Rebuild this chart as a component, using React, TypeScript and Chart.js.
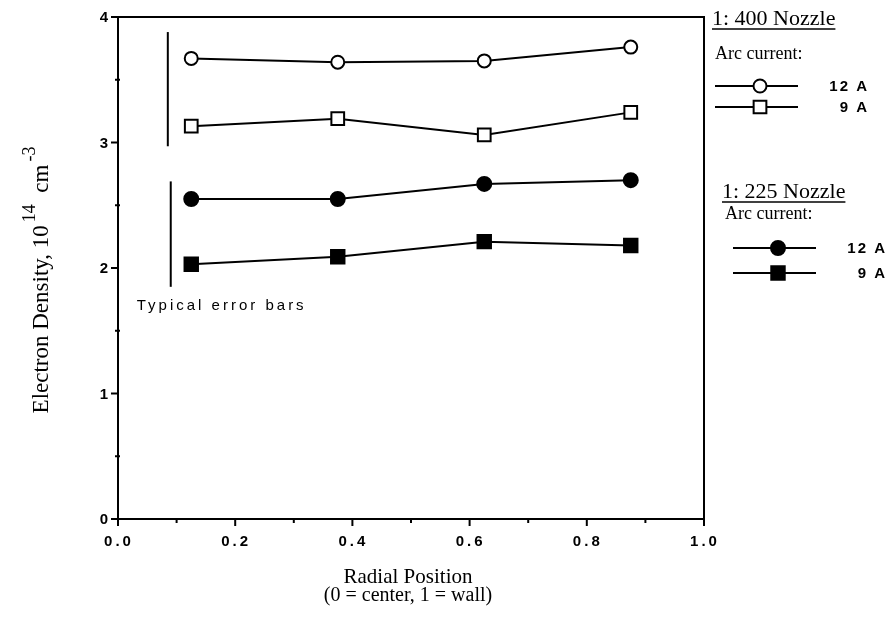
import React, { useEffect, useRef } from 'react';
import { Chart, registerables } from 'chart.js';

Chart.register(...registerables);

// ---- data ----
const radialPositions = [0.125, 0.375, 0.625, 0.875];
const nozzle400_12A = [3.67, 3.64, 3.65, 3.76];
const nozzle400_9A = [3.13, 3.19, 3.06, 3.24];
const nozzle225_12A = [2.55, 2.55, 2.67, 2.7];
const nozzle225_9A = [2.03, 2.09, 2.21, 2.18];

const errorBar400X = 0.085;
const errorBar400Range = [2.97, 3.88];
const errorBar225X = 0.09;
const errorBar225Range = [1.85, 2.69];
const errorBarNote = 'Typical error bars';
const errorBarNotePos = [0.032, 1.7];

const xTickLabels = ['0.0', '0.2', '0.4', '0.6', '0.8', '1.0'];
const yTickLabels = ['0', '1', '2', '3', '4'];
const xMinorStep = 0.1;
const yMinorStep = 0.5;

const xTitleLines = ['Radial Position', '(0 = center, 1 = wall)'];
const yTitleParts = [
  { text: 'Electron Density, 10', sup: false },
  { text: '14', sup: true },
  { text: '  cm', sup: false },
  { text: '-3', sup: true },
];

const legendGroups = [
  { title: '1: 400 Nozzle', subtitle: 'Arc current:', series: [0, 1] },
  { title: '1: 225 Nozzle', subtitle: 'Arc current:', series: [2, 3] },
];

const SERIF = '"Liberation Serif", "Times New Roman", serif';
const SANS = '"Liberation Sans", Arial, sans-serif';

function xy(values: number[]) {
  return values.map((v, i) => ({ x: radialPositions[i], y: v }));
}

function drawMarker(ctx: CanvasRenderingContext2D, ds: any, cx: number, cy: number) {
  ctx.save();
  ctx.lineWidth = ds.pointBorderWidth;
  ctx.strokeStyle = ds.pointBorderColor;
  ctx.fillStyle = ds.pointBackgroundColor;
  ctx.beginPath();
  if (ds.pointStyle === 'rect') {
    const h = ds.pointRadius * Math.SQRT1_2;
    ctx.rect(cx - h, cy - h, 2 * h, 2 * h);
  } else {
    ctx.arc(cx, cy, ds.pointRadius, 0, Math.PI * 2);
  }
  ctx.fill();
  ctx.stroke();
  ctx.restore();
}

const customPlugin = {
  id: 'customDraw',
  beforeDraw(chart: any) {
    const ctx = chart.ctx;
    ctx.save();
    ctx.fillStyle = '#fff';
    ctx.fillRect(0, 0, chart.width, chart.height);
    ctx.restore();
  },
  afterDraw(chart: any) {
    const ctx: CanvasRenderingContext2D = chart.ctx;
    const { left, right, top, bottom } = chart.chartArea;
    const xs = chart.scales.x;
    const ys = chart.scales.y;
    ctx.save();
    ctx.strokeStyle = '#000';
    ctx.fillStyle = '#000';
    ctx.lineWidth = 2;
    ctx.strokeRect(left, top, right - left, bottom - top);

    // y ticks
    ys.ticks.forEach((t: any) => {
      const py = ys.getPixelForValue(t.value);
      const major = Math.abs(t.value - Math.round(t.value)) < 1e-6;
      ctx.beginPath();
      if (major) {
        ctx.moveTo(left - 7, py);
        ctx.lineTo(left, py);
      } else {
        ctx.moveTo(left - 3, py);
        ctx.lineTo(left + 2, py);
      }
      ctx.stroke();
    });
    // x ticks
    xs.ticks.forEach((t: any) => {
      const px = xs.getPixelForValue(t.value);
      const major = Math.abs(t.value * 5 - Math.round(t.value * 5)) < 1e-6;
      ctx.beginPath();
      ctx.moveTo(px, bottom);
      ctx.lineTo(px, bottom + (major ? 7 : 4));
      ctx.stroke();
    });

    // tick labels
    (ctx as any).letterSpacing = '3px';
    ctx.font = `bold 15px ${SANS}`;
    ctx.textBaseline = 'middle';
    ctx.textAlign = 'right';
    yTickLabels.forEach((lab) => {
      const py = ys.getPixelForValue(Number(lab));
      ctx.fillText(lab, left - 7, py + 1);
    });
    ctx.textAlign = 'center';
    xTickLabels.forEach((lab) => {
      const px = xs.getPixelForValue(Number(lab));
      ctx.fillText(lab, px + 1, bottom + 23);
    });

    // error bar note
    ctx.font = `15px ${SANS}`;
    ctx.textAlign = 'left';
    (ctx as any).letterSpacing = '3px';
    ctx.fillText(errorBarNote, xs.getPixelForValue(errorBarNotePos[0]), ys.getPixelForValue(errorBarNotePos[1]));
    (ctx as any).letterSpacing = '0px';

    // x title
    ctx.font = `21px ${SERIF}`;
    ctx.textAlign = 'center';
    const cx = (left + right) / 2 - 3;
    ctx.fillText(xTitleLines[0], cx, bottom + 58);
    ctx.font = `20px ${SERIF}`;
    ctx.fillText(xTitleLines[1], cx, bottom + 77);

    // y title (rotated, with superscripts)
    const mainFont = `23px ${SERIF}`;
    const supFont = `18px ${SERIF}`;
    let total = 0;
    yTitleParts.forEach((p) => {
      ctx.font = p.sup ? supFont : mainFont;
      total += ctx.measureText(p.text).width + (p.sup ? 3 : 0);
    });
    ctx.save();
    ctx.translate(48, (top + bottom) / 2 + 12);
    ctx.rotate(-Math.PI / 2);
    ctx.textAlign = 'left';
    ctx.textBaseline = 'alphabetic';
    let cur = -total / 2;
    yTitleParts.forEach((p) => {
      ctx.font = p.sup ? supFont : mainFont;
      const w = ctx.measureText(p.text).width;
      if (p.sup) {
        ctx.fillText(p.text, cur + 3, -13);
        cur += w + 3;
      } else {
        ctx.fillText(p.text, cur, 0);
        cur += w;
      }
    });
    ctx.restore();

    // legend
    const ds = chart.data.datasets;
    const groupLayout = [
      { tx: 712, ty: 19, sy: 54, rows: [86, 107], lx0: 715, lx1: 798, mx: 760, labX: 869 },
      { tx: 722, ty: 192, sy: 214, rows: [248, 273], lx0: 733, lx1: 816, mx: 778, labX: 887 },
    ];
    legendGroups.forEach((g, gi) => {
      const L = groupLayout[gi];
      ctx.textAlign = 'left';
      ctx.textBaseline = 'middle';
      ctx.font = `22px ${SERIF}`;
      ctx.fillText(g.title, L.tx, L.ty);
      const tw = ctx.measureText(g.title).width;
      ctx.lineWidth = 1.5;
      ctx.beginPath();
      ctx.moveTo(L.tx, L.ty + 10);
      ctx.lineTo(L.tx + tw, L.ty + 10);
      ctx.stroke();
      ctx.font = `18px ${SERIF}`;
      ctx.fillText(g.subtitle, L.tx + 3, L.sy);
      g.series.forEach((si, ri) => {
        const d = ds[si];
        const ry = L.rows[ri];
        ctx.lineWidth = d.borderWidth;
        ctx.strokeStyle = d.borderColor;
        ctx.beginPath();
        ctx.moveTo(L.lx0, ry);
        ctx.lineTo(L.lx1, ry);
        ctx.stroke();
        drawMarker(ctx, d, L.mx, ry);
        ctx.fillStyle = '#000';
        ctx.font = `bold 15px ${SANS}`;
        (ctx as any).letterSpacing = '2px';
        ctx.textAlign = 'right';
        ctx.fillText(d.label, L.labX, ry + 1);
        (ctx as any).letterSpacing = '0px';
      });
    });

    ctx.restore();
  },
};

export default function App() {
  const canvasRef = useRef<HTMLCanvasElement | null>(null);

  useEffect(() => {
    const canvas = canvasRef.current;
    if (!canvas) return;
    const series = (label: string, values: number[], style: string, filled: boolean, radius: number) => ({
      label,
      data: xy(values),
      showLine: true,
      borderColor: '#000',
      borderWidth: 2,
      pointStyle: style,
      pointRadius: radius,
      pointHoverRadius: radius,
      pointBorderColor: '#000',
      pointBackgroundColor: filled ? '#000' : '#fff',
      pointBorderWidth: 2,
      tension: 0,
    });
    const errorBar = (xv: number, range: number[]) => ({
      label: 'error',
      data: range.map((v) => ({ x: xv, y: v })),
      showLine: true,
      borderColor: '#000',
      borderWidth: 2,
      pointRadius: 0,
      pointHoverRadius: 0,
    });

    const chart = new Chart(canvas, {
      type: 'scatter',
      data: {
        datasets: [
          series('12 A', nozzle400_12A, 'circle', false, 6.5),
          series('9 A', nozzle400_9A, 'rect', false, 9),
          series('12 A', nozzle225_12A, 'circle', true, 7),
          series('9 A', nozzle225_9A, 'rect', true, 9.5),
          errorBar(errorBar400X, errorBar400Range),
          errorBar(errorBar225X, errorBar225Range),
        ] as any,
      },
      options: {
        animation: false,
        responsive: false,
        devicePixelRatio: 1,
        events: [],
        layout: { padding: { left: 0, right: 190, top: 17, bottom: 0 } },
        plugins: {
          legend: { display: false },
          tooltip: { enabled: false },
          title: { display: false },
        },
        scales: {
          x: {
            type: 'linear',
            min: 0,
            max: 1,
            ticks: { display: false, stepSize: xMinorStep },
            grid: { display: false },
            border: { display: false },
            afterFit: (scale: any) => {
              scale.height = 100;
            },
          },
          y: {
            type: 'linear',
            min: 0,
            max: 4,
            ticks: { display: false, stepSize: yMinorStep },
            grid: { display: false },
            border: { display: false },
            afterFit: (scale: any) => {
              scale.width = 118;
            },
          },
        },
      } as any,
      plugins: [customPlugin],
    });
    return () => chart.destroy();
  }, []);

  return (
    <div style={{ position: 'fixed', left: 0, top: 0, width: 894, height: 619, background: '#fff' }}>
      <canvas ref={canvasRef} width={894} height={619} style={{ display: 'block', width: 894, height: 619 }} />
    </div>
  );
}
